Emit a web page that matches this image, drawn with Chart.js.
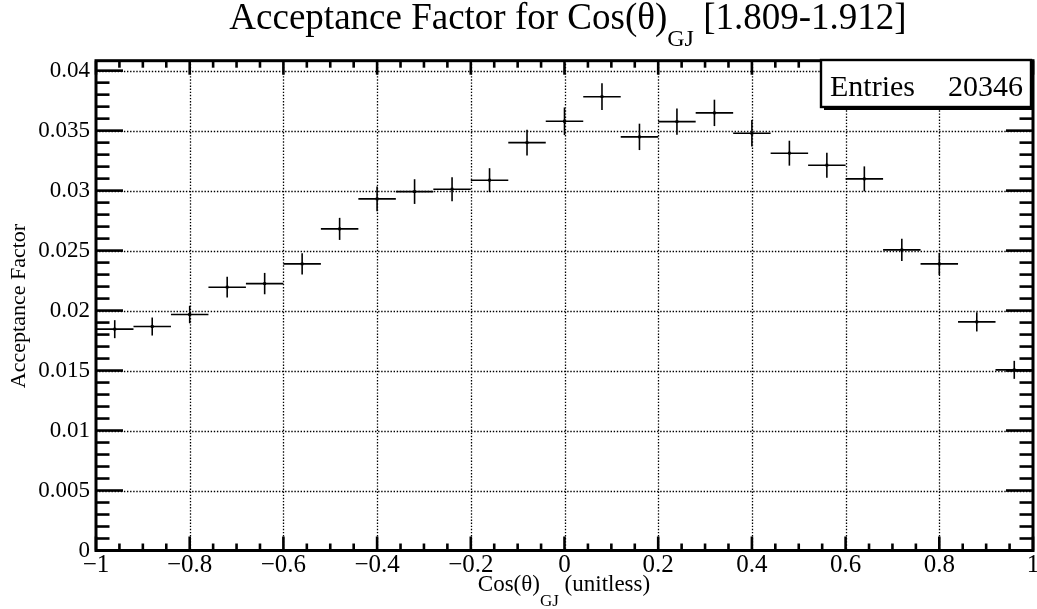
<!DOCTYPE html>
<html><head><meta charset="utf-8">
<script src="https://cdn.jsdelivr.net/npm/chart.js@4/dist/chart.umd.min.js"></script>
<style>html,body{margin:0;padding:0;background:#fff;}#wrap{width:1037px;height:609px;}</style>
</head><body><div id="wrap"><canvas id="c" width="1037" height="609"></canvas></div>
<script>
// ---- data ----
const binCenters = [-0.96,-0.88,-0.80,-0.72,-0.64,-0.56,-0.48,-0.40,-0.32,-0.24,-0.16,-0.08,0.00,0.08,0.16,0.24,0.32,0.40,0.48,0.56,0.64,0.72,0.80,0.88,0.96];
const values = [0.01845,0.01867,0.01967,0.02195,0.02225,0.02389,0.02681,0.02931,0.02992,0.03012,0.03087,0.03400,0.03578,0.03783,0.03448,0.03575,0.03648,0.03478,0.03312,0.03212,0.03098,0.02506,0.02389,0.01906,0.01506];
const errors = [0.00075,0.00075,0.00073,0.00086,0.00089,0.00088,0.00092,0.00104,0.00103,0.00100,0.00100,0.00108,0.00115,0.00111,0.00110,0.00110,0.00110,0.00110,0.00104,0.00104,0.00104,0.00092,0.00092,0.00080,0.00075];
const binHalfWidth = 0.04;
const xTicks = [-1,-0.8,-0.6,-0.4,-0.2,0,0.2,0.4,0.6,0.8,1];
const xTickLabels = ['\u22121','\u22120.8','\u22120.6','\u22120.4','\u22120.2','0','0.2','0.4','0.6','0.8','1'];
const yTicks = [0,0.005,0.01,0.015,0.02,0.025,0.03,0.035,0.04];
const yTickLabels = ['0','0.005','0.01','0.015','0.02','0.025','0.03','0.035','0.04'];
const xMinorPerMajor = 4, yMinorPerMajor = 5;
const yMax = 0.04083;
const titleParts = ['Acceptance Factor for Cos(\u03b8)','GJ',' [1.809-1.912]'];
const xTitleParts = ['Cos(\u03b8)','GJ',' (unitless)'];
const yTitle = 'Acceptance Factor';
const statsLabel = 'Entries', statsValue = '20346';

const FONT = '"Liberation Serif","Times New Roman",serif';

function line(ctx,x0,y0,x1,y1){ctx.beginPath();ctx.moveTo(x0,y0);ctx.lineTo(x1,y1);ctx.stroke();}
function rich(ctx, parts, cx, base, size, subSize, subDy){
  const specs = [[parts[0],size,0],[parts[1],subSize,subDy],[parts[2],size,0]];
  let w=0; specs.forEach(s=>{ctx.font=s[1]+'px '+FONT; w+=ctx.measureText(s[0]).width;});
  let x = cx - w/2;
  ctx.textAlign='left'; ctx.textBaseline='alphabetic'; ctx.fillStyle='#000';
  specs.forEach(s=>{ctx.font=s[1]+'px '+FONT; ctx.fillText(s[0],x,base+s[2]); x+=ctx.measureText(s[0]).width;});
}

const rootStyle = {
  id:'rootStyle',
  beforeDatasetsDraw(chart){
    const {ctx, chartArea:a, scales:{x,y}} = chart;
    ctx.save();
    ctx.strokeStyle='#000'; ctx.lineWidth=1.3; ctx.setLineDash([1.4,1.7]);
    xTicks.forEach(v=>{const p=Math.round(x.getPixelForValue(v))+0.5; if(p>a.left+3&&p<a.right-3) line(ctx,p,a.top,p,a.bottom);});
    yTicks.forEach(v=>{const p=Math.round(y.getPixelForValue(v))+0.5; if(p>a.top+3&&p<a.bottom-3) line(ctx,a.left,p,a.right,p);});
    ctx.restore();
    ctx.save();
    ctx.strokeStyle='#000'; ctx.lineWidth=1.6;
    binCenters.forEach((c,i)=>{
      const px=x.getPixelForValue(c), py=y.getPixelForValue(values[i]);
      line(ctx,x.getPixelForValue(c-binHalfWidth),py,x.getPixelForValue(c+binHalfWidth),py);
      line(ctx,px,y.getPixelForValue(values[i]-errors[i]),px,y.getPixelForValue(values[i]+errors[i]));
    });
    ctx.restore();
  },
  afterDraw(chart){
    const {ctx, chartArea:a, scales:{x,y}} = chart;
    ctx.save();
    ctx.strokeStyle='#000'; ctx.lineWidth=2.6; ctx.setLineDash([]);
    const xt = x.ticks.map(t=>t.value);
    for(let i=0;i<xt.length;i++){
      const p=x.getPixelForValue(xt[i]);
      line(ctx,p,a.bottom,p,a.bottom-14); line(ctx,p,a.top,p,a.top+14);
      if(i<xt.length-1){ for(let k=1;k<xMinorPerMajor;k++){ const v=xt[i]+(xt[i+1]-xt[i])*k/xMinorPerMajor; const q=x.getPixelForValue(v);
        line(ctx,q,a.bottom,q,a.bottom-7); line(ctx,q,a.top,q,a.top+7);} }
    }
    const yt = y.ticks.map(t=>t.value);
    const step = (yt[1]-yt[0])/yMinorPerMajor;
    for(let i=0;i<yt.length;i++){
      const p=y.getPixelForValue(yt[i]);
      line(ctx,a.left,p,a.left+27,p); line(ctx,a.right,p,a.right-27,p);
      const next = i<yt.length-1 ? yt[i+1] : y.max;
      for(let k=1;k<yMinorPerMajor;k++){ const v=yt[i]+step*k; if(v>=next-1e-9) break; const q=y.getPixelForValue(v);
        line(ctx,a.left,q,a.left+13.5,q); line(ctx,a.right,q,a.right-13.5,q);}
    }
    ctx.lineWidth=3;
    ctx.strokeRect(a.left,a.top,a.right-a.left,a.bottom-a.top);
    const bx=821, by=60, bw=210, bh=47;
    ctx.fillStyle='#000'; ctx.fillRect(bx+3,by+3,bw,bh);
    ctx.fillStyle='#fff'; ctx.fillRect(bx,by,bw,bh);
    ctx.lineWidth=2.4; ctx.strokeRect(bx,by,bw,bh);
    ctx.fillStyle='#000'; ctx.font='30px '+FONT; ctx.textBaseline='alphabetic';
    ctx.textAlign='left'; ctx.fillText(statsLabel,830,96);
    ctx.textAlign='right'; ctx.fillText(statsValue,1023,96);
    rich(ctx,titleParts,568,29,37,24,17);
    rich(ctx,xTitleParts,564,591,23,17,15);
    ctx.save(); ctx.translate(25,306); ctx.rotate(-Math.PI/2);
    ctx.font='22px '+FONT; ctx.textAlign='center'; ctx.textBaseline='alphabetic'; ctx.fillStyle='#000';
    ctx.fillText(yTitle,0,0); ctx.restore();
    ctx.restore();
  }
};

new Chart(document.getElementById('c'),{
  type:'scatter',
  data:{datasets:[{data:binCenters.map((c,i)=>({x:c,y:values[i]})),pointStyle:'rect',pointRadius:2,backgroundColor:'#000',borderColor:'#000',borderWidth:0}]},
  options:{
    responsive:false, animation:false, devicePixelRatio:1,
    layout:{padding:{top:60.7,right:3.5,left:0,bottom:0}},
    plugins:{legend:{display:false},tooltip:{enabled:false},title:{display:false}},
    scales:{
      x:{type:'linear',min:-1,max:1,
        afterBuildTicks(s){s.ticks=xTicks.map(v=>({value:v}));},
        afterFit(s){s.height=58.5;s.paddingLeft=0;s.paddingRight=0;},
        grid:{display:false,drawTicks:false},border:{display:false},
        ticks:{autoSkip:false,maxRotation:0,padding:0,color:'#000',font:{family:FONT,size:25},callback:(v,i)=>xTickLabels[i]}},
      y:{type:'linear',min:0,max:yMax,
        afterBuildTicks(s){s.ticks=yTicks.map(v=>({value:v}));},
        afterFit(s){s.width=96;s.paddingTop=0;s.paddingBottom=0;},
        grid:{display:false,drawTicks:false},border:{display:false},
        ticks:{autoSkip:false,padding:6,color:'#000',font:{family:FONT,size:23},callback:(v,i)=>yTickLabels[i]}}
    }
  },
  plugins:[rootStyle]
});
</script></body></html>
